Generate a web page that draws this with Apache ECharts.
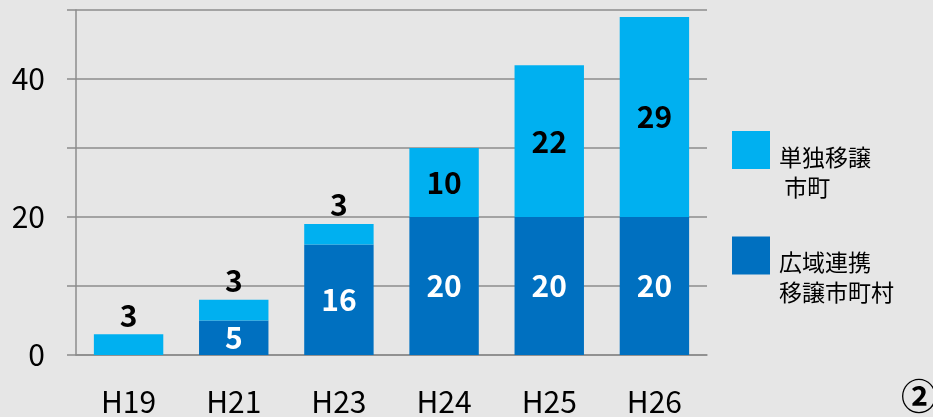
<!DOCTYPE html>
<html>
<head>
<meta charset="utf-8">
<title>移譲市町村数</title>
<script src="https://cdn.jsdelivr.net/npm/echarts@6/dist/echarts.min.js"></script>
<style>
  html, body { margin: 0; padding: 0; background: #e6e6e6; }
  #main { width: 933px; height: 417px; }
</style>
</head>
<body>
<div id="main"></div>
<script>
// 年度
var years = ['H19', 'H21', 'H23', 'H24', 'H25', 'H26'];
// 広域連携移譲市町村 (下段)
var kouiki = [0, 5, 16, 20, 20, 20];
// 単独移譲市町 (上段)
var tandoku = [3, 3, 3, 10, 22, 29];
var seriesNames = ['単独移譲市町', '広域連携移譲市町村'];

var FONT = '"Noto Sans CJK JP", "Noto Sans", sans-serif';

var chart = echarts.init(document.getElementById('main'));

// 小さい値はバーの上、大きい値は中に表示
var topData = tandoku.map(function (v) {
    return {
        value: v,
        label: { position: v < 5 ? 'top' : 'inside', distance: 4 }
    };
});

var option = {
    backgroundColor: '#e6e6e6',
    animation: false,
    grid: { left: 76, right: 226, top: 10, bottom: 62 },
    legend: {
        orient: 'vertical',
        left: 727,
        top: 110,
        itemWidth: 38,
        itemHeight: 38,
        itemGap: 22,
        icon: 'rect',
        data: [seriesNames[0], seriesNames[1]],
        // 文字は四角の下寄りに置くので、上に空行を入れる
        formatter: function (name) {
            if (name === seriesNames[0]) return '{s| }\n{t|単独移譲}\n{t| 市町}';
            return '{s| }\n{t|広域連携}\n{t|移譲市町村}';
        },
        textStyle: {
            padding: [0, 0, 0, 4],
            rich: {
                s: { fontSize: 10, lineHeight: 44 },
                t: { fontFamily: FONT, fontSize: 23, lineHeight: 30, color: '#000' }
            }
        }
    },
    xAxis: {
        type: 'category',
        data: years,
        axisLine: { lineStyle: { color: '#8c8c8c', width: 1.5 } },
        axisTick: { length: 9, lineStyle: { color: '#8c8c8c', width: 1.5 } },
        axisLabel: { color: '#000', fontFamily: FONT, fontSize: 30, margin: 32 }
    },
    yAxis: {
        type: 'value',
        min: 0,
        max: 50,
        interval: 10,
        axisLine: { show: true, lineStyle: { color: '#8c8c8c', width: 1.5 } },
        axisTick: { show: true, length: 9, lineStyle: { color: '#8c8c8c', width: 1.5 } },
        splitLine: { lineStyle: { color: '#8c8c8c', width: 1.5 } },
        axisLabel: {
            color: '#000',
            fontFamily: FONT,
            fontSize: 30,
            margin: 31,
            formatter: function (v) { return v % 20 === 0 ? v : ''; }
        }
    },
    series: [
        {
            name: seriesNames[1],
            type: 'bar',
            stack: 'total',
            barWidth: '66%',
            itemStyle: { color: '#0070c0' },
            label: {
                show: true,
                position: 'inside',
                color: '#fff',
                fontFamily: FONT,
                fontWeight: 'bold',
                fontSize: 30,
                formatter: function (p) { return p.value > 0 ? p.value : ''; }
            },
            data: kouiki
        },
        {
            name: seriesNames[0],
            type: 'bar',
            stack: 'total',
            itemStyle: { color: '#00b0f0' },
            label: {
                show: true,
                color: '#000',
                fontFamily: FONT,
                fontWeight: 'bold',
                fontSize: 30
            },
            data: topData
        }
    ],
    graphic: [{
        type: 'text',
        left: 901,
        top: 378,
        style: { text: '②', font: 'bold 36px ' + FONT, fill: '#000' }
    }]
};

chart.setOption(option);
</script>
</body>
</html>
